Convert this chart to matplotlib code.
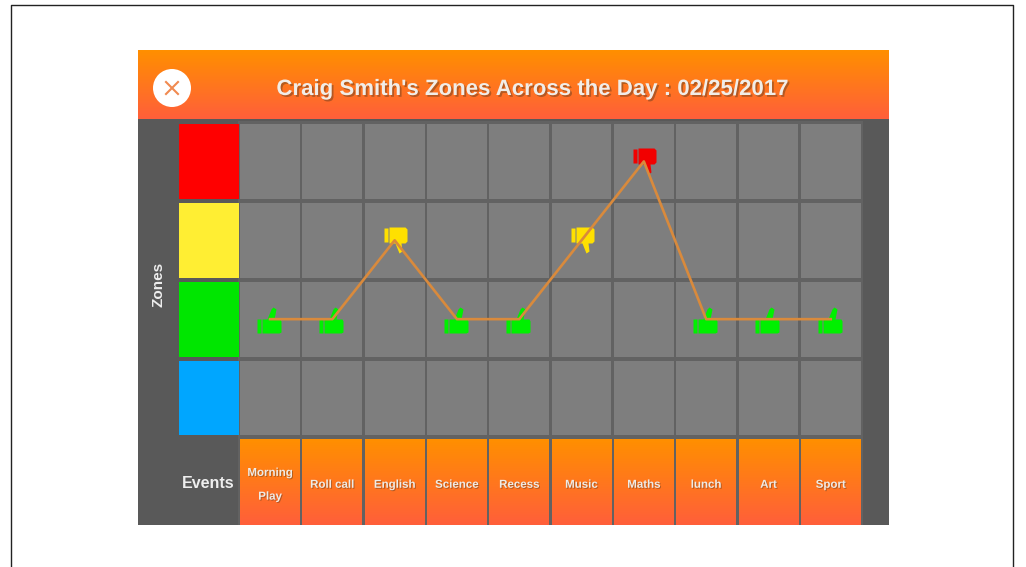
import numpy as np
from matplotlib import pyplot as plt
from matplotlib import patheffects as pe
from matplotlib.colors import LinearSegmentedColormap
from matplotlib.patches import Circle, Rectangle
from matplotlib.path import Path

events = ['Morning\nPlay', 'Roll call', 'English', 'Science', 'Recess',
          'Music', 'Maths', 'lunch', 'Art', 'Sport']
# 0 blue, 1 green, 2 yellow, 3 red
zone_colors = ['#00a6ff', '#00e600', '#ffee33', '#ff0000']
thumb_colors = {1: '#00f000', 2: '#ffe000', 3: '#f20000'}
event_zones = [1, 1, 2, 1, 1, 2, 3, 1, 1, 1]
title = "Craig Smith's Zones Across the Day : 02/25/2017"

W, H = 1026, 567
FONT = 'Liberation Sans'

orange = LinearSegmentedColormap.from_list('head', ['#ff8f00', '#ff5f3a'])
gradient = np.linspace(0, 1, 64).reshape(-1, 1)


def shadow(off=1.0):
  return [pe.withSimplePatchShadow(offset=(off, -off), shadow_rgbFace='#5a3a20', alpha=0.45)]


def thumb_marker(up):
  '''Marker path, in pixels around the point the line goes through'''
  if up:
    parts = [[(-13, 0), (-9, 0), (-9, -14), (-13, -14)],
             [(-8, 0), (-3, 0), (1, 10), (3, 12), (6, 10), (4, 0), (10, 0), (11, -2), (11, -13), (9, -14), (-8, -14)]]
  else:
    parts = [[(-11, 12), (-7, 12), (-7, -2), (-11, -2)],
             [(-6, 13), (10, 13), (12, 11), (12, -1), (10, -3), (6, -3), (7, -11), (4, -13), (0, -3), (-6, -3)]]
  return Path.make_compound_path(*[Path(p + [p[0]], closed=True) for p in parts])


fig = plt.figure(figsize=(W / 100, H / 100), dpi=100, facecolor='white')

# page frame and app panel, in pixels
bg = fig.add_axes([0, 0, 1, 1])
bg.set_xlim(0, W)
bg.set_ylim(H, 0)
bg.axis('off')
bg.plot([11, 11, 1013, 1013], [H, 5, 5, H], color='#222222', lw=1.0)
bg.add_patch(Rectangle((138, 119), 751, 406, fc='#595959', ec='none'))
bg.add_patch(Rectangle((238, 121), 625, 404, fc='#626262', ec='none'))
bg.imshow(gradient, extent=(138, 889, 119, 50), cmap=orange, aspect='auto')
bg.set_xlim(0, W)
bg.set_ylim(H, 0)
bg.add_patch(Circle((172, 88), 19, fc='white', ec='none'))
bg.plot([166, 178], [82, 94], color='#f08a50', lw=1.5)
bg.plot([166, 178], [94, 82], color='#f08a50', lw=1.5)
bg.text(532, 89.5, title, color='#f1ede8', fontsize=16, family=FONT, fontweight='bold',
        ha='center', va='center', path_effects=shadow(1.3))
bg.text(158.5, 284, 'Zones', color='#eeeeee', fontsize=11, family=FONT, fontweight='bold',
        rotation=90, ha='center', va='center')
bg.text(208.5, 484, 'Events', color='#eeeeee', fontsize=11.5, family=FONT, fontweight='bold',
        ha='center', va='center')

# the chart itself: x is the event index, y the zone
left, right = 176.6, 861.9
top, bottom = 122.0, 525.0
ax = fig.add_axes([left / W, 1 - bottom / H, (right - left) / W, (bottom - top) / H])
ax.axis('off')
xlim = (-1.5, 9.5)
ylim = (-1.61, 3.5)

for z, c in enumerate(zone_colors):
  ax.add_patch(Rectangle((-1.46, z - 0.475), 0.96, 0.95, fc=c, ec='none'))
  for i in range(len(events)):
    ax.add_patch(Rectangle((i - 0.48, z - 0.475), 0.96, 0.95, fc='#7e7e7e', ec='none'))

for i, name in enumerate(events):
  ax.imshow(gradient, extent=(i - 0.48, i + 0.48, -1.61, -0.52), cmap=orange, aspect='auto')
  ax.text(i, -1.1, name, color='#efebe6', fontsize=8.3, family=FONT, fontweight='bold',
          ha='center', va='center', linespacing=2.3, path_effects=shadow(0.7))

x = np.arange(len(events))
y = np.array(event_zones)
for z, c in thumb_colors.items():
  marker = thumb_marker(z == 1)
  size = 2 * np.abs(marker.vertices).max() * 0.72
  ax.plot(x[y == z], y[y == z], ls='none', marker=marker, ms=size, mfc=c, mec='none', zorder=3)
ax.plot(x, y, color='#d98a3c', lw=1.9, zorder=4)

ax.set_xlim(*xlim)
ax.set_ylim(*ylim)

fig.savefig('out.png', dpi=100)
